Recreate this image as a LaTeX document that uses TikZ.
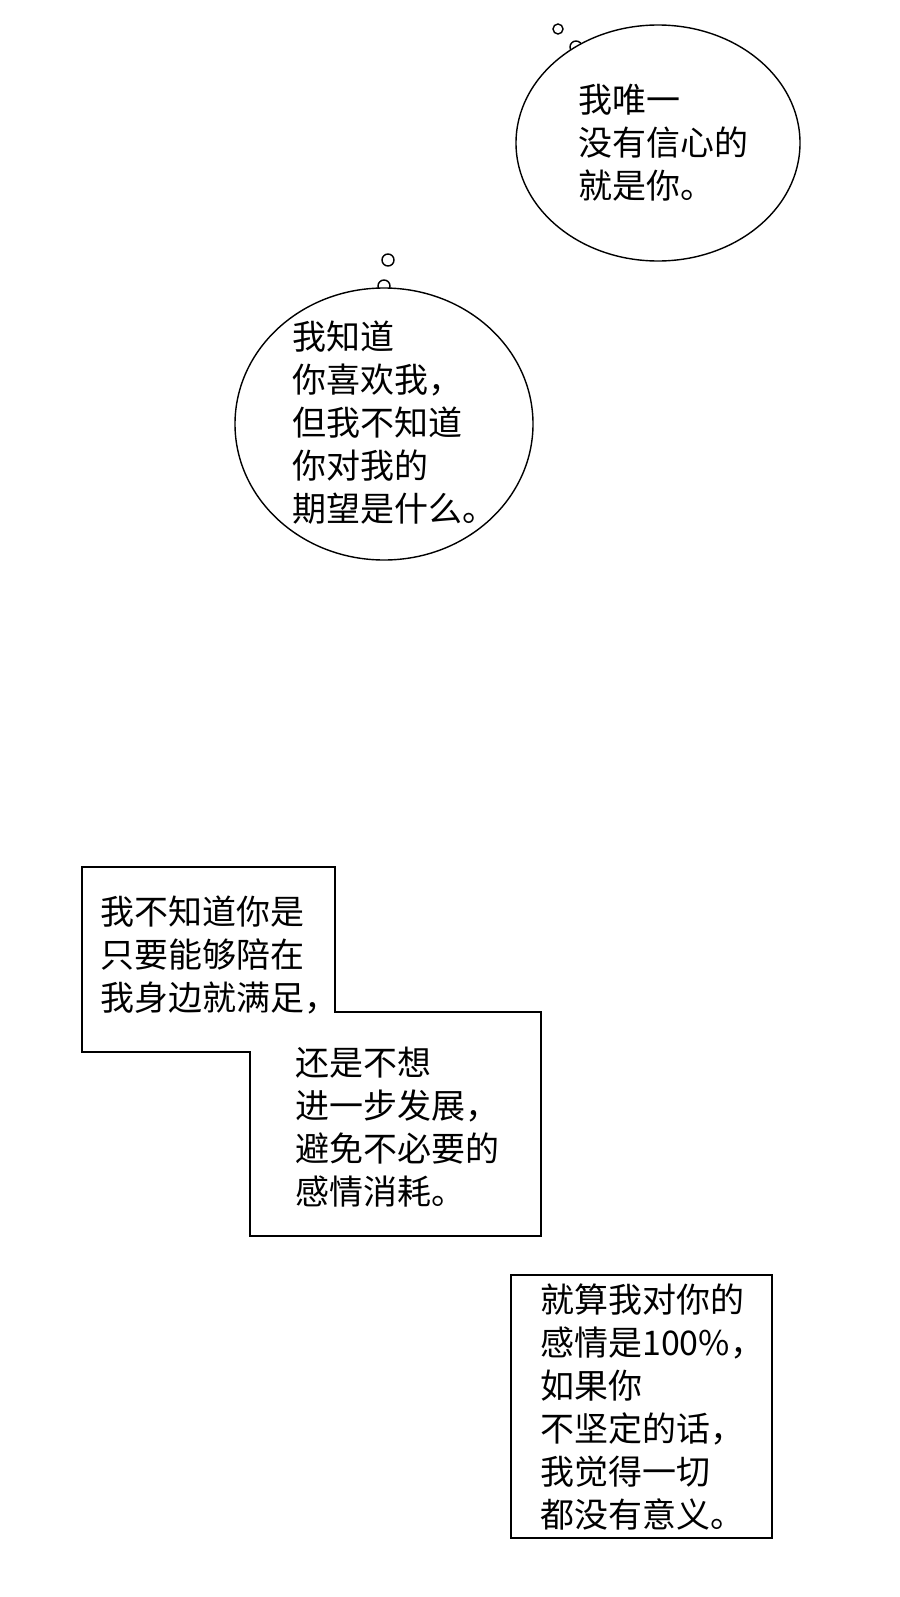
\documentclass[tikz,border=0pt]{standalone}
\usepackage{fontspec}
\setmainfont{Noto Sans CJK SC}
\usetikzlibrary{positioning}
\begin{document}
\begin{tikzpicture}[
  x=0.03cm, y=-0.03cm,
  bubble/.style={draw, line width=1.2pt},
  speech/.style={anchor=north west, inner sep=0pt, align=left,
    font=\fontsize{29pt}{36.6pt}\selectfont}
]
\useasboundingbox[fill=white] (0,0) rectangle (900,1597);

% Thought bubble, top right
\draw[bubble, fill=white] (576,47) circle [radius=6];
\draw[bubble, fill=white] (558,29) circle [radius=5];
\draw[bubble, fill=white] (658,143) ellipse [x radius=142, y radius=118];
\node[speech] (t1) at (578,84) {我唯一\\没有信心的\\就是你。};

% Thought bubble, middle
\draw[bubble, fill=white] (384,286) circle [radius=6];
\draw[bubble, fill=white] (388,260) circle [radius=6];
\draw[bubble, fill=white] (384,424) ellipse [x radius=149, y radius=136];
\node[speech] (t2) at (292,321) {我知道\\你喜欢我，\\但我不知道\\你对我的\\期望是什么。};

% Stepped box
\draw[bubble] (82,867) -- (335,867) -- (335,1012) -- (541,1012) -- (541,1236)
  -- (250,1236) -- (250,1052) -- (82,1052) -- cycle;
\node[speech] (t3) at (100,896) {我不知道你是\\只要能够陪在\\我身边就满足，};
\node[speech] (t4) at (295,1047) {还是不想\\进一步发展，\\避免不必要的\\感情消耗。};

% Bottom box
\draw[bubble] (511,1275) rectangle (772,1538);
\node[speech] (t5) at (540,1284) {就算我对你的\\感情是100\%，\\如果你\\不坚定的话，\\我觉得一切\\都没有意义。};
\end{tikzpicture}
\end{document}
